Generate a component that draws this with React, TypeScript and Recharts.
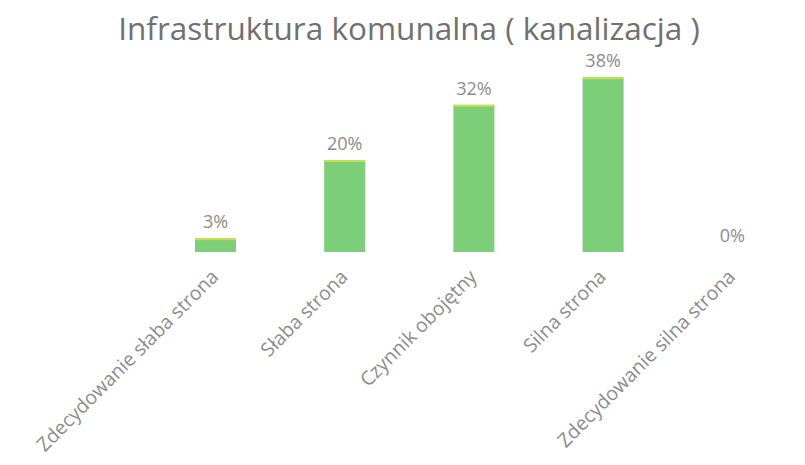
import { BarChart, Bar, XAxis, YAxis, LabelList } from 'recharts';

const categories = [
  'Zdecydowanie słaba strona',
  'Słaba strona',
  'Czynnik obojętny',
  'Silna strona',
  'Zdecydowanie silna strona',
];
const shares = [3, 20, 32, 38, 0];

const data = categories.map((name, i) => ({ name, value: shares[i] }));

const FONT = '"Open Sans", "Liberation Sans", sans-serif';
const GREY = '#8c8c8c';

// rotated category label, right end sits under the bar
const AngledTick = (props: any) => {
  const { x, y, payload } = props;
  return (
    <g transform={`translate(${x + 4},${y + 18})`}>
      <text
        transform="rotate(-45)"
        textAnchor="end"
        fontFamily={FONT}
        fontSize={19.5}
        fill={GREY}
      >
        {payload.value}
      </text>
    </g>
  );
};

// green bar with a thin yellow-green top edge
const BarShape = (props: any) => {
  const { x, y, width, height } = props;
  if (!height || height <= 0) return null;
  return (
    <g>
      <rect x={x} y={y} width={width} height={height} fill="#7ccf78" />
      <rect x={x} y={y} width={width} height={2} fill="#c4e24c" />
    </g>
  );
};

export default function App() {
  return (
    <div style={{ position: 'absolute', left: 0, top: 0, background: '#fff' }}>
      <div
        style={{
          position: 'absolute',
          top: 12,
          left: 0,
          width: 818,
          textAlign: 'center',
          fontFamily: FONT,
          fontSize: 31.5,
          lineHeight: 1,
          color: '#707070',
          zIndex: 1,
        }}
      >
        Infrastruktura komunalna ( kanalizacja )
      </div>
      <BarChart
        width={805}
        height={465}
        data={data}
        margin={{ top: 68, right: 8, left: 151, bottom: 0 }}
        barCategoryGap={44}
      >
        <XAxis
          dataKey="name"
          height={213}
          axisLine={false}
          tickLine={false}
          interval={0}
          tick={<AngledTick />}
        />
        <YAxis hide domain={[0, 40]} />
        <Bar dataKey="value" shape={<BarShape />} isAnimationActive={false}>
          <LabelList
            dataKey="value"
            position="top"
            offset={10}
            formatter={(v: any) => `${v}%`}
            style={{ fontFamily: FONT, fontSize: 18, fill: GREY }}
          />
        </Bar>
      </BarChart>
    </div>
  );
}
